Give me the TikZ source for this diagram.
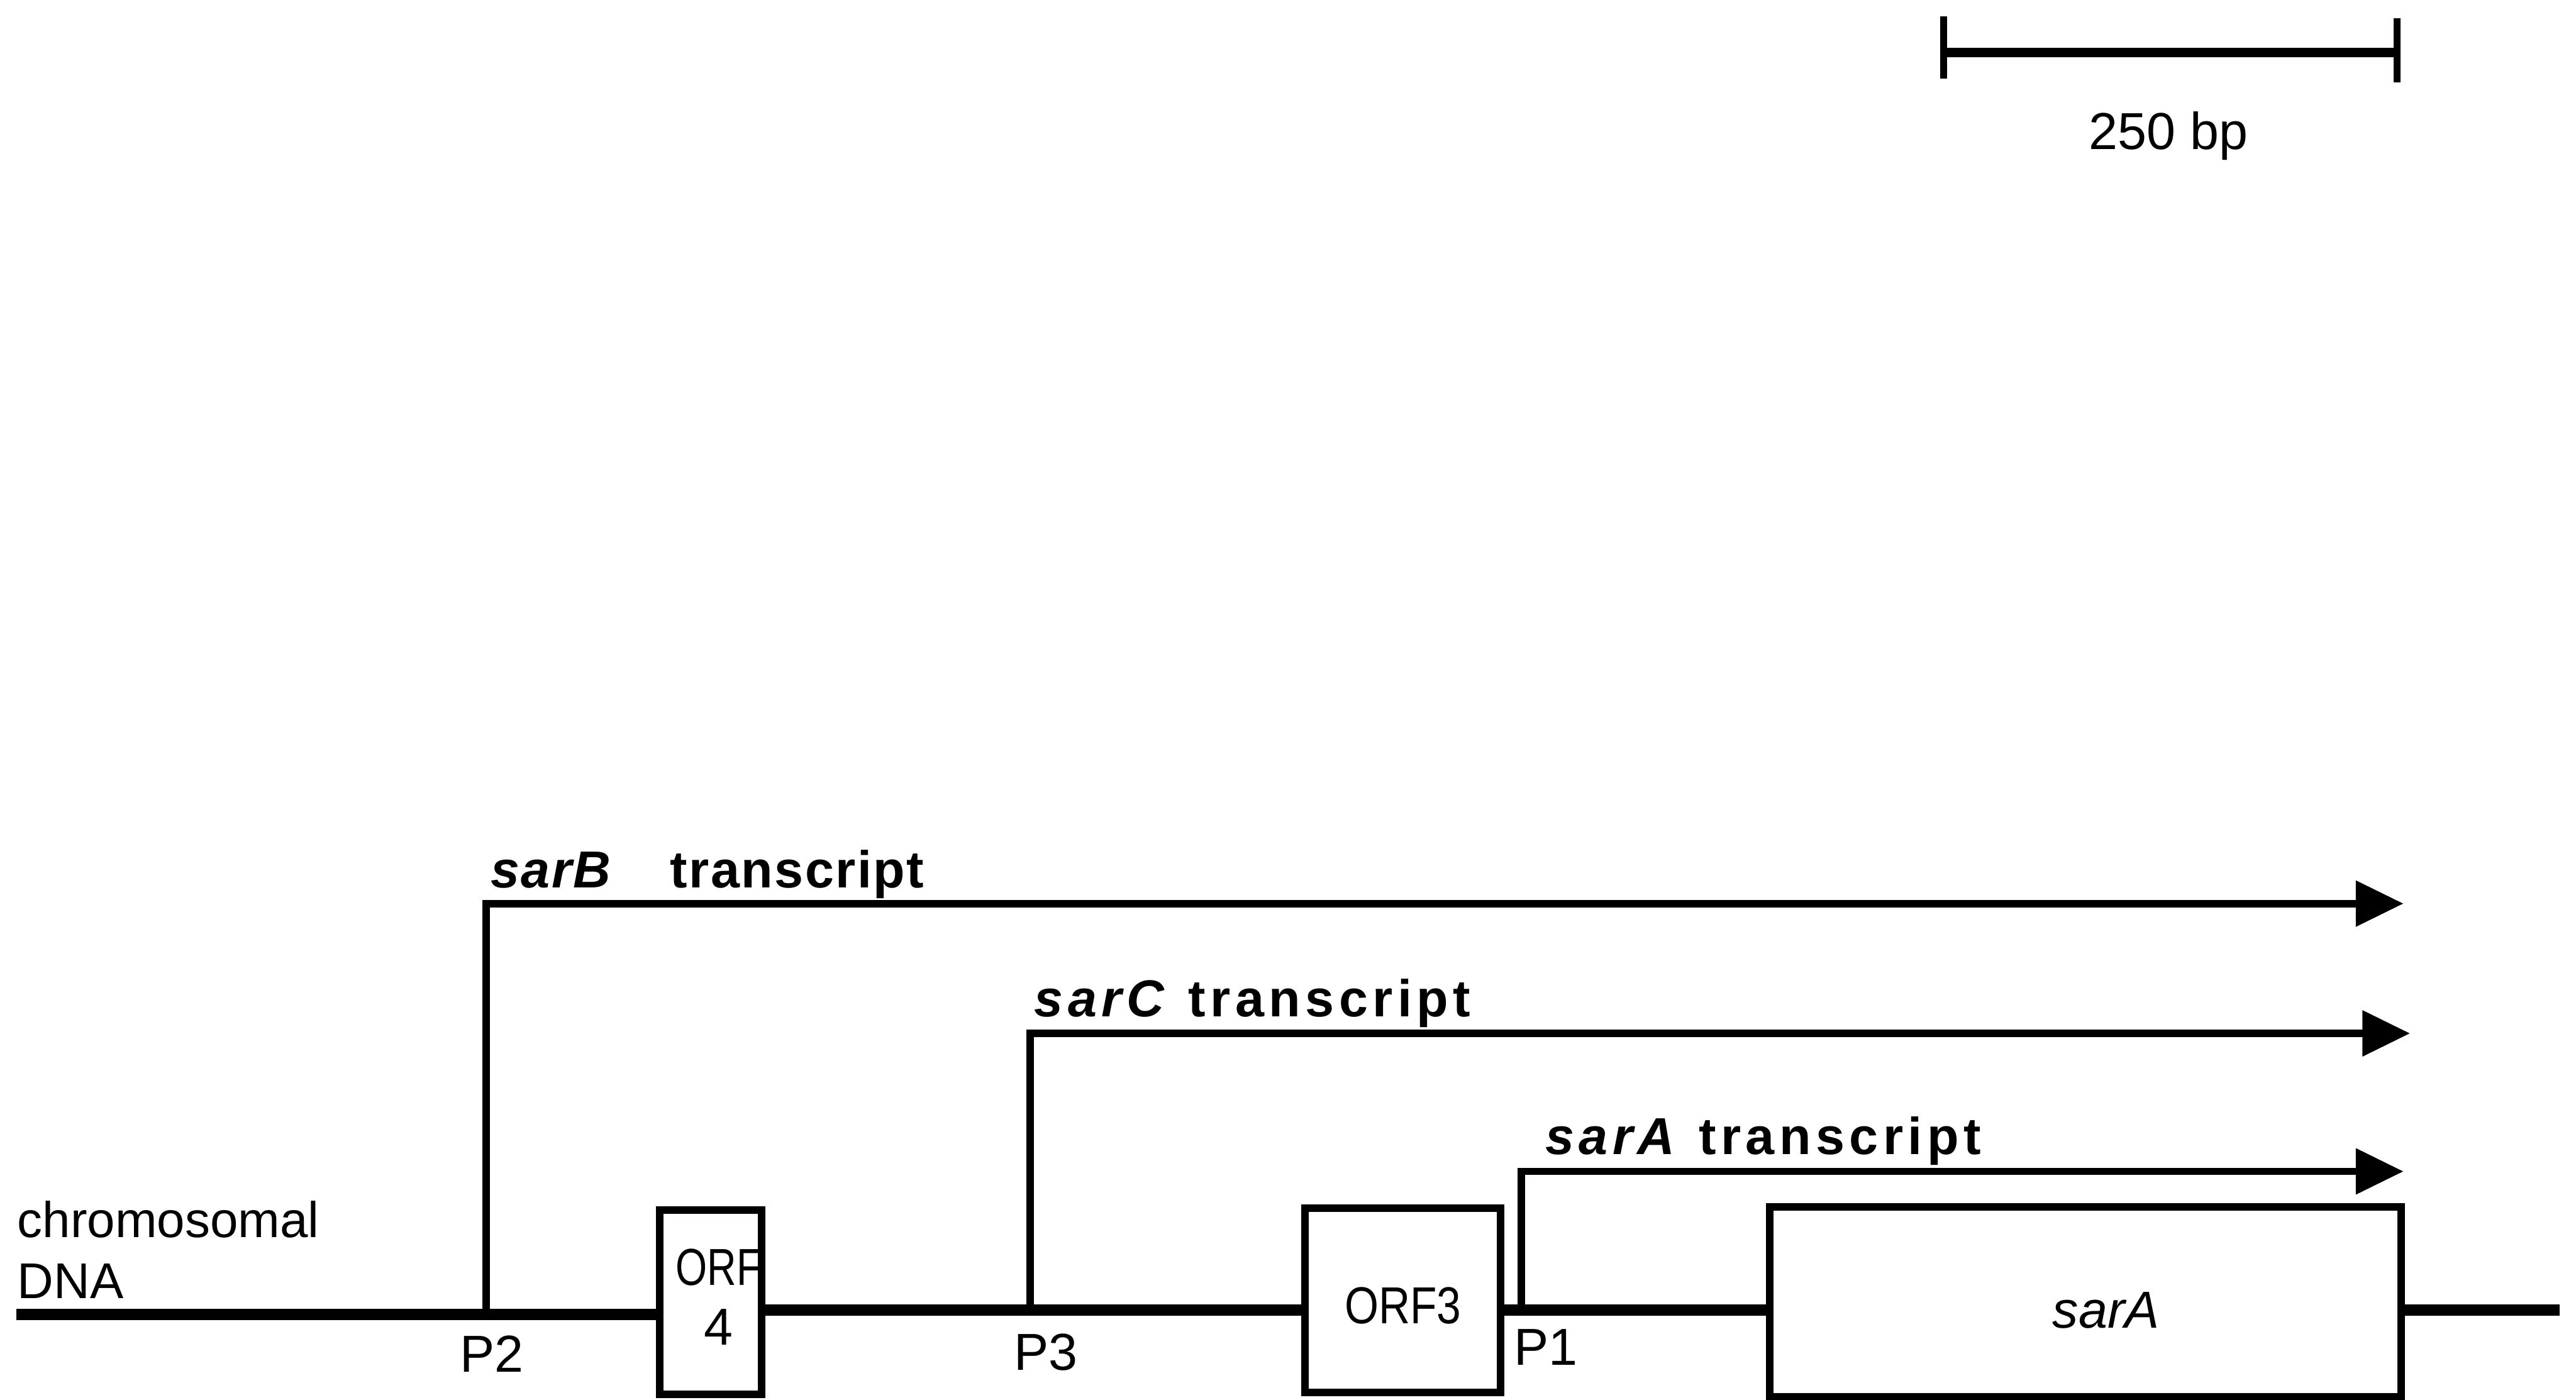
\documentclass[tikz,border=0pt]{standalone}
\usepackage{fontspec}
\setmainfont{Liberation Sans}
\usepackage{graphicx}
\usetikzlibrary{arrows.meta, positioning, calc}

\begin{document}
\begin{tikzpicture}[
    x=0.01cm, y=-0.01cm,
    every node/.style={font=\fontsize{9}{10.4}\selectfont, inner sep=0pt},
    dna/.style={line width=1.95pt},
    genebox/.style={rectangle, draw=black, fill=white, line width=1.3pt},
    transcript/.style={-{Triangle[length=0.29cm, width=0.27cm]}, line width=1.3pt},
    tlabel/.style={font=\fontsize{9}{10.4}\selectfont\bfseries\addfontfeatures{LetterSpace=9}, anchor=base west},
    plabel/.style={anchor=base},
    scalebar/.style={line width=1.6pt},
    scaletick/.style={line width=1.2pt}
]
\useasboundingbox (0,0) rectangle (1568,852);

% Scale bar
\coordinate (barL) at (1183,32);
\coordinate (barR) at (1459,32);
\draw [scalebar] (barL) -- (barR);
\draw [scaletick] (barL) ++(0,-22) -- ++(0,38);
\draw [scaletick] (barR) ++(0,-21) -- ++(0,39);
\node (barlabel) [anchor=base] at (1320,91) {250 bp};

% Genes on the chromosome
\node (orf4) [genebox, align=center, minimum width=0.62cm, minimum height=1.12cm] at (432.5,792.5) {\hspace*{0.1cm}\scalebox{0.78}[1]{ORF}\\\hspace*{0.1cm}4\rule[-0.06cm]{0pt}{0.06cm}};
\node (orf3) [genebox, minimum width=1.19cm, minimum height=1.12cm, text height=0.28cm, text depth=0pt] at (854,791.5) {\scalebox{0.84}[1]{ORF3}};
\node (sara) [genebox, minimum width=3.84cm, minimum height=1.155cm, text height=0.32cm, text depth=0pt] at (1269.5,792.3) {\hspace*{0.25cm}\itshape sarA};

% Chromosomal DNA
\coordinate (dnaL) at (10,800);
\coordinate (dnaR) at (1558,797.5);
\draw [dna] (dnaL) -- (dnaL -| orf4.west);
\draw [dna] (orf4.east |- dnaR) -- (orf3.west |- dnaR);
\draw [dna] (orf3.east |- dnaR) -- (sara.west |- dnaR);
\draw [dna] (sara.east |- dnaR) -- (dnaR);
\node (chrom) [anchor=south west, align=left, font=\fontsize{8.7}{10.6}\selectfont] at (10,791) {chromosomal\\DNA};

% Promoters
\coordinate (p2) at (296,800);
\coordinate (p3) at (627,797.5);
\coordinate (p1) at (926,797.5);
\node (lp2) [plabel] at (299.5,835) {P2};
\node (lp3) [plabel] at (636.5,834) {P3};
\node (lp1) [plabel] at (941,831) {P1};

% Transcripts
\coordinate (endB) at (1463,550);
\coordinate (endC) at (1467,629);
\coordinate (endA) at (1463,713);
\draw [transcript] (p2) |- (endB);
\draw [transcript] (p3) |- (endC);
\draw [transcript] (p1) |- (endA);
\node (labB) [tlabel, font=\fontsize{9}{10.4}\selectfont\bfseries\addfontfeatures{LetterSpace=3}] at (298,540.5) {\textit{sarB}\hspace{0.35cm}transcript};
\node (labC) [tlabel] at (629,619) {\textit{sarC} transcript};
\node (labA) [tlabel] at (940,702.6) {\textit{sarA} transcript};

\end{tikzpicture}
\end{document}
